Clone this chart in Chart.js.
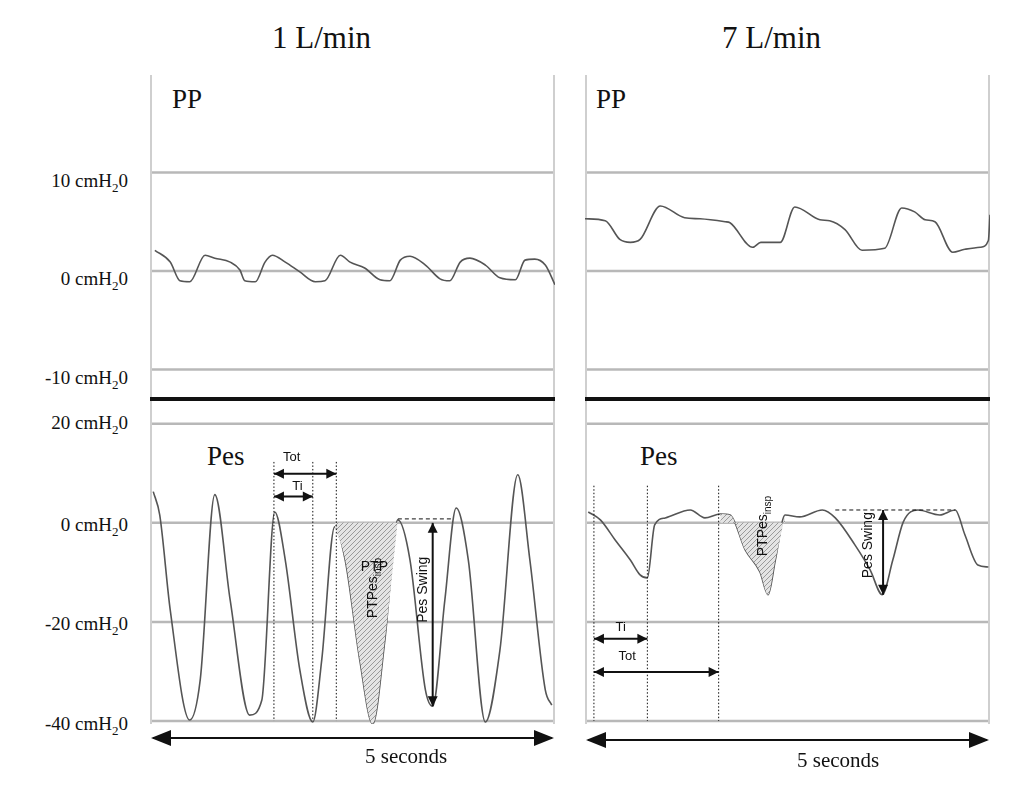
<!DOCTYPE html>
<html><head><meta charset="utf-8">
<script src="https://cdn.jsdelivr.net/npm/chart.js@4.4.0/dist/chart.umd.min.js"></script>
<style>
body{margin:0;background:#fff;width:1015px;height:800px;position:relative;overflow:hidden;font-family:"Liberation Serif",serif;}
.c{position:absolute;}
.t{position:absolute;white-space:nowrap;color:#111;}
.yl{position:absolute;right:887px;font-size:19px;transform:translateY(-50%);}
.yl sub{font-size:13px;}
.bar{position:absolute;height:4px;background:#111;top:397px;}
</style></head><body>
<div class="t" style="left:272px;top:20px;font-size:31px">1 L/min</div>
<div class="t" style="left:722px;top:20px;font-size:31px">7 L/min</div>
<div class="t" style="left:172px;top:84px;font-size:27px">PP</div>
<div class="t" style="left:596px;top:84px;font-size:27px">PP</div>
<div class="t" style="left:207px;top:441px;font-size:27px">Pes</div>
<div class="t" style="left:640px;top:441px;font-size:27px">Pes</div>
<div class="yl t" style="top:183px">10 cmH<sub>2</sub>0</div>
<div class="yl t" style="top:281px">0 cmH<sub>2</sub>0</div>
<div class="yl t" style="top:380px">-10 cmH<sub>2</sub>0</div>
<div class="yl t" style="top:425px">20 cmH<sub>2</sub>0</div>
<div class="yl t" style="top:527px">0 cmH<sub>2</sub>0</div>
<div class="yl t" style="top:626px">-20 cmH<sub>2</sub>0</div>
<div class="yl t" style="top:726px">-40 cmH<sub>2</sub>0</div>
<div class="bar" style="left:150px;width:405px"></div>
<div class="bar" style="left:585px;width:405px"></div>
<canvas id="ppL" class="c" style="left:150px;top:75px" width="405" height="322"></canvas>
<canvas id="ppR" class="c" style="left:585px;top:75px" width="405" height="322"></canvas>
<canvas id="pesL" class="c" style="left:150px;top:401px" width="405" height="323"></canvas>
<canvas id="pesR" class="c" style="left:585px;top:401px" width="405" height="323"></canvas>
<svg class="c" style="left:0;top:0" width="1015" height="800">
<defs><marker id="ah" markerWidth="10" markerHeight="8" refX="9" refY="4" orient="auto-start-reverse"><path d="M0,0 L10,4 L0,8 z" fill="#111"/></marker></defs>
<line x1="153" y1="738" x2="552" y2="738" stroke="#111" stroke-width="2" marker-start="url(#ah)" marker-end="url(#ah)"/>
<line x1="588" y1="740" x2="987" y2="740" stroke="#111" stroke-width="2" marker-start="url(#ah)" marker-end="url(#ah)"/>
</svg>
<div class="t" style="left:365px;top:744px;font-size:21px">5 seconds</div>
<div class="t" style="left:797px;top:748px;font-size:21px">5 seconds</div>
<script>
// time in seconds, pressure in cmH2O
const ppLeftT = [0.06,0.25,0.37,0.49,0.68,0.80,0.99,1.11,1.17,1.30,1.42,1.51,1.67,1.85,2.04,2.16,2.35,2.47,2.65,2.84,2.96,3.09,3.21,3.40,3.58,3.70,3.83,3.95,4.14,4.32,4.51,4.63,4.75,4.88,5.0];
const ppLeft = [2.1,0.9,-1.0,-1.1,1.6,1.3,0.9,0.1,-1.0,-1.1,0.9,1.6,0.9,-0.1,-1.1,-1.0,1.6,0.9,0.3,-0.9,-1.0,1.1,1.5,0.6,-0.8,-1.0,0.9,1.3,0.6,-0.7,-0.9,1.1,1.2,0.6,-1.4];
const ppRightT = [0,0.25,0.43,0.56,0.68,0.93,1.23,1.42,1.73,1.79,2.07,2.17,2.41,2.59,2.90,3.02,3.21,3.42,3.70,3.91,4.07,4.20,4.32,4.54,4.69,4.88,4.98,5.0];
const ppRight = [5.3,5.1,3.2,2.9,3.2,6.6,5.4,5.3,5.0,4.9,2.4,2.9,2.9,6.5,5.2,5.1,4.2,2.1,2.3,6.4,6.0,5.2,5.0,1.9,2.2,2.4,3.1,5.7];
const pesLeftT = [0.04,0.12,0.25,0.49,0.62,0.80,0.99,1.23,1.38,1.54,1.67,1.85,2.01,2.12,2.28,2.41,2.59,2.75,2.90,3.06,3.21,3.40,3.49,3.64,3.78,3.93,4.14,4.32,4.54,4.69,4.88,4.96];
const pesLeft = [6.3,1.6,-17.6,-39.8,-31.7,5.7,-15.6,-38.8,-35.8,2.2,-7.5,-29.7,-40.2,-27.7,-0.8,-7.5,-27.7,-40.6,-23.6,0.6,-7.5,-33.7,-37,-15.6,3,-7.5,-40.2,-25.7,9.7,-7.5,-33.7,-36.8];
const pesRightT = [0.04,0.19,0.37,0.56,0.68,0.77,0.86,0.99,1.30,1.48,1.67,1.79,1.98,2.16,2.26,2.35,2.47,2.65,2.93,3.09,3.33,3.52,3.67,3.80,3.93,4.11,4.38,4.57,4.69,4.85,4.98];
const pesRight = [2.2,0.6,-3.4,-7.5,-10.5,-11.1,-0.4,1,2.6,1,1.8,1.6,-5.5,-9.9,-14.5,-7.5,1.6,1.2,2.6,1,-4.4,-9.5,-14.5,-7.5,0.2,2.6,1.6,2.6,-2.4,-8.5,-8.9];
const ppTicks = [10, 0, -10];
const pesTicks = [20, 0, -20, -40];
const ptpLeft = [2.28, 3.06];
const ptpRight = [1.67, 2.47];

function pts(t, v) { return t.map((x, i) => ({x: x, y: v[i]})); }
function between(t, v, r) {
    return pts(t, v).filter(p => p.x >= r[0] && p.x <= r[1]);
}

const hatch = document.createElement('canvas');
hatch.width = 5; hatch.height = 5;
const hc = hatch.getContext('2d');
hc.fillStyle = '#e4e4e4'; hc.fillRect(0, 0, 5, 5);
hc.strokeStyle = '#9a9a9a'; hc.lineWidth = 1;
hc.beginPath(); hc.moveTo(0, 5); hc.lineTo(5, 0); hc.stroke();
const hatchPat = hc.createPattern(hatch, 'repeat');

const annot = {
    id: 'annot',
    beforeDatasetsDraw(chart, args, o) {
        const c = chart.ctx, a = chart.chartArea, y = chart.scales.y;
        c.save();
        c.strokeStyle = '#b8b8b8'; c.lineWidth = 2.5;
        o.ticks.forEach(v => {
            const py = y.getPixelForValue(v);
            c.beginPath(); c.moveTo(a.left, py); c.lineTo(a.right, py); c.stroke();
        });
        c.strokeStyle = '#cfcfcf'; c.lineWidth = 2;
        c.beginPath(); c.moveTo(a.left + 1, a.top); c.lineTo(a.left + 1, a.bottom);
        c.moveTo(a.right - 1, a.top); c.lineTo(a.right - 1, a.bottom); c.stroke();
        c.restore();
    },
    afterDatasetsDraw(chart, args, o) {
        const c = chart.ctx, x = chart.scales.x, y = chart.scales.y;
        const X = v => x.getPixelForValue(v), Y = v => y.getPixelForValue(v);
        c.save();
        c.strokeStyle = '#111'; c.fillStyle = '#111';
        (o.vlines || []).forEach(l => {
            c.setLineDash([1.5, 2]); c.lineWidth = 1;
            c.beginPath(); c.moveTo(X(l[0]), Y(l[1])); c.lineTo(X(l[0]), Y(l[2])); c.stroke();
        });
        (o.dashed || []).forEach(l => {
            c.setLineDash([4, 3]); c.lineWidth = 1;
            c.beginPath(); c.moveTo(X(l[0]), Y(l[2])); c.lineTo(X(l[1]), Y(l[2])); c.stroke();
        });
        c.setLineDash([]);
        function head(x0, y0, ang) {
            c.save(); c.translate(x0, y0); c.rotate(ang);
            c.beginPath(); c.moveTo(0, 0); c.lineTo(-10, -5); c.lineTo(-10, 5); c.closePath(); c.fill();
            c.restore();
        }
        (o.arrows || []).forEach(r => {
            const x1 = X(r[0]), y1 = Y(r[1]), x2 = X(r[2]), y2 = Y(r[3]);
            c.lineWidth = 2;
            c.beginPath(); c.moveTo(x1, y1); c.lineTo(x2, y2); c.stroke();
            const ang = Math.atan2(y2 - y1, x2 - x1);
            head(x2, y2, ang); head(x1, y1, ang + Math.PI);
        });
        (o.texts || []).forEach(t => {
            c.save(); c.translate(X(t.x), Y(t.y)); c.rotate(t.rot || 0);
            c.font = (t.size || 14) + 'px "Liberation Sans", Arial';
            c.textAlign = 'center'; c.textBaseline = 'middle';
            c.fillText(t.s, 0, 0);
            if (t.sub) {
                const w = c.measureText(t.s).width;
                c.font = '10px "Liberation Sans", Arial'; c.textAlign = 'left';
                c.fillText(t.sub, w / 2, 5);
            }
            c.restore();
        });
        c.restore();
    }
};

function makeChart(id, t, v, ymin, ymax, ticks, shade, extra) {
    const ds = [{data: pts(t, v), borderColor: '#555', borderWidth: 1.6, pointRadius: 0, cubicInterpolationMode: 'monotone', fill: false}];
    if (shade) {
        ds.unshift({data: between(t, v, shade), borderWidth: 0, pointRadius: 0, cubicInterpolationMode: 'monotone', backgroundColor: hatchPat, fill: {value: 0}});
    }
    return new Chart(document.getElementById(id), {
        type: 'line',
        data: {datasets: ds},
        options: {
            responsive: false, animation: false,
            layout: {padding: 0},
            plugins: {legend: {display: false}, tooltip: {enabled: false},
                annot: Object.assign({ticks: ticks}, extra || {})},
            scales: {
                x: {type: 'linear', min: 0, max: 5, display: false},
                y: {min: ymin, max: ymax, display: false}
            }
        },
        plugins: [annot]
    });
}

makeChart('ppL', ppLeftT, ppLeft, -12.8, 19.9, ppTicks);
makeChart('ppR', ppRightT, ppRight, -12.8, 19.9, ppTicks);
makeChart('pesL', pesLeftT, pesLeft, -40.6, 24.6, pesTicks, ptpLeft, {
    vlines: [[1.53, 12.3, -40], [2.01, 12.3, -40], [2.30, 12.3, -40]],
    arrows: [[1.53, 9.9, 2.30, 9.9], [1.53, 5.3, 2.01, 5.3], [3.49, 0, 3.49, -37]],
    dashed: [[3.06, 3.74, 0.8]],
    texts: [
        {s: 'Tot', x: 1.75, y: 13.2, size: 13},
        {s: 'Ti', x: 1.82, y: 7.4, size: 13},
        {s: 'PTP', x: 2.77, y: -9, size: 14},
        {s: 'PTPes', sub: 'insp', x: 2.75, y: -15, size: 14, rot: -Math.PI / 2},
        {s: 'Pes Swing', x: 3.37, y: -13.5, size: 14, rot: -Math.PI / 2}
    ]
});
makeChart('pesR', pesRightT, pesRight, -40.6, 24.6, pesTicks, ptpRight, {
    vlines: [[0.11, 7.5, -40], [0.77, 7.5, -40], [1.65, 7.5, -40]],
    arrows: [[0.11, -23.4, 0.77, -23.4], [0.11, -30.1, 1.65, -30.1], [3.68, 2.6, 3.68, -14.5]],
    dashed: [[3.09, 4.57, 2.6]],
    texts: [
        {s: 'Ti', x: 0.44, y: -21.2, size: 13},
        {s: 'Tot', x: 0.52, y: -27, size: 13},
        {s: 'PTPes', sub: 'insp', x: 2.20, y: -2.5, size: 14, rot: -Math.PI / 2},
        {s: 'Pes Swing', x: 3.50, y: -4.5, size: 14, rot: -Math.PI / 2}
    ]
});
</script>
</body></html>
